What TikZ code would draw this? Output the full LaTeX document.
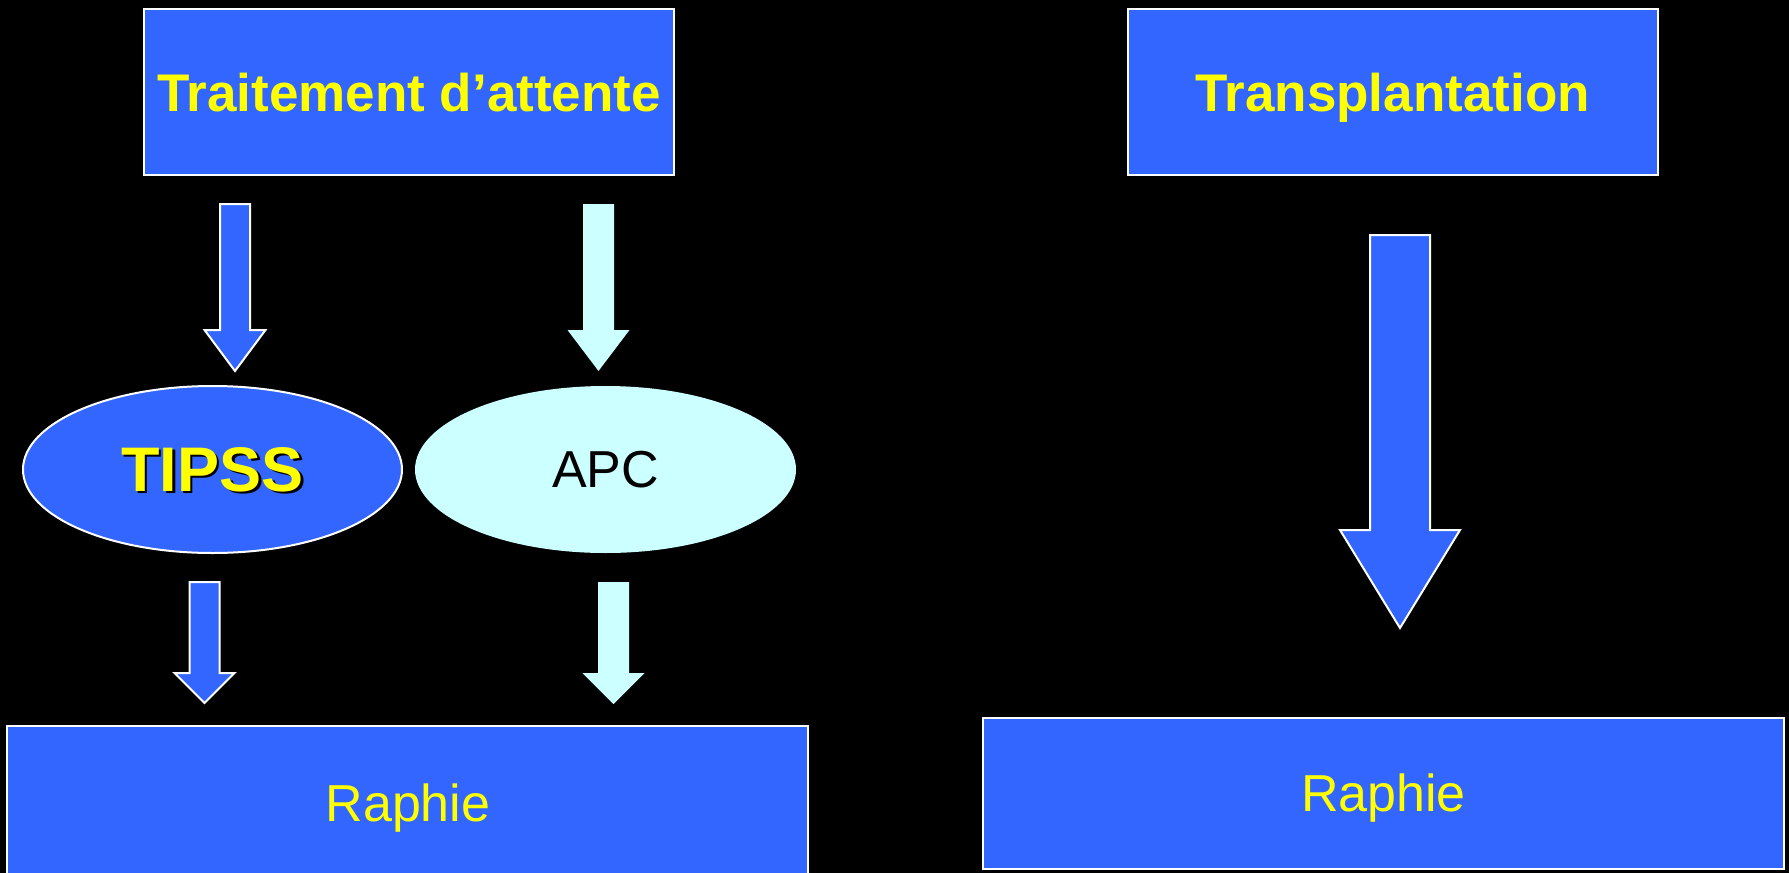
\documentclass[tikz,border=0pt]{standalone}
\usepackage{fontspec}
\setmainfont{Liberation Sans}
\usetikzlibrary{shapes.geometric}
\definecolor{boxblue}{HTML}{3366FF}
\definecolor{paleCyan}{HTML}{CCFFFF}
\definecolor{txtyellow}{HTML}{FFFF00}
\newcommand\blkarrow[7][]{% [style] {cx}{top}{headstart}{tip}{halfshaft}{halfhead}
  \path[#1] ({#2-#6},#3) -- ({#2+#6},#3) -- ({#2+#6},#4) -- ({#2+#7},#4) -- (#2,#5) -- ({#2-#7},#4) -- ({#2-#6},#4) -- cycle;}
\begin{document}
\begin{tikzpicture}[x=1pt,y=-1pt,
  bluebox/.style={draw=white,line width=2pt,fill=boxblue,rectangle,inner sep=0pt},
  blueell/.style={draw=white,line width=2pt,fill=boxblue,ellipse,inner sep=0pt},
  cyanell/.style={fill=paleCyan,ellipse,inner sep=0pt},
  bluearrow/.style={draw=white,line width=2pt,fill=boxblue,line join=miter},
  cyanarrow/.style={fill=paleCyan},
  titletxt/.style={text=txtyellow,text depth=0pt,font=\fontsize{53}{60}\selectfont\bfseries},
  plaintxt/.style={text depth=0pt,font=\fontsize{52}{60}\selectfont}]
\fill[black] (0,0) rectangle (1789,873);
\useasboundingbox (0,0) rectangle (1789,873);
% top boxes
\node[bluebox,minimum width=530pt,minimum height=166pt] (attente) at (409,92) {};
\node[titletxt] (attenteT) at (attente.center) {Traitement d’attente};
\node[bluebox,minimum width=530pt,minimum height=166pt] (transp) at (1392.5,92) {};
\node[titletxt] (transpT) at (transp.center) {Transplantation};
% ellipses
\node[blueell,minimum width=379pt,minimum height=167pt] (tipss) at (212.5,469.5) {};
\node[text=black,font=\fontsize{63}{70}\selectfont\bfseries] at ([xshift=2.5pt,yshift=-2.5pt]tipss.center) {TIPSS};
\node[text=txtyellow,font=\fontsize{63}{70}\selectfont\bfseries] (tipssT) at (tipss.center) {TIPSS};
\node[cyanell,minimum width=381pt,minimum height=167pt] (apc) at (605.5,469.5) {};
\node[plaintxt,text=black] (apcT) at (apc.center) {APC};
% bottom boxes
\node[bluebox,minimum width=801pt,minimum height=170pt] (raphieL) at (407.5,811) {};
\node[plaintxt,text=txtyellow] (raphieLT) at (408,803) {Raphie};
\node[bluebox,minimum width=801pt,minimum height=151pt] (raphieR) at (1383.5,793) {};
\node[plaintxt,text=txtyellow] (raphieRT) at (raphieR.center) {Raphie};
% block arrows
\blkarrow[bluearrow]{235}{204}{330}{371}{15}{30.5}
\blkarrow[cyanarrow]{598.5}{204}{330}{371}{15.5}{31}
\blkarrow[bluearrow]{204.5}{582}{673}{703}{15}{30}
\blkarrow[cyanarrow]{613.5}{582}{673}{704}{15.5}{31}
\blkarrow[bluearrow]{1400}{235}{530}{628}{30}{60}
\end{tikzpicture}
\end{document}
